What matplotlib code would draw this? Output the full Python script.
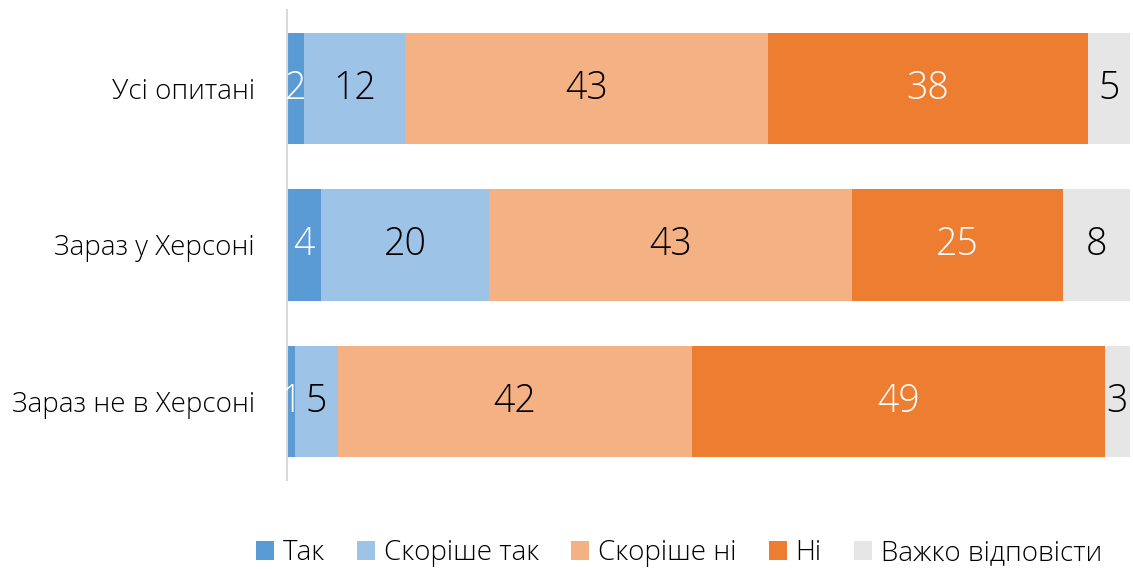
import matplotlib.pyplot as plt
import numpy as np

categories = ["Усі опитані", "Зараз у Херсоні", "Зараз не в Херсоні"]
series_names = ["Так", "Скоріше так", "Скоріше ні", "Ні", "Важко відповісти"]
tak = [2, 4, 1]
skorishe_tak = [12, 20, 5]
skorishe_ni = [43, 43, 42]
ni = [38, 25, 49]
vazhko = [5, 8, 3]

colors = ["#5B9BD5", "#9DC3E6", "#F4B183", "#ED7D31", "#E7E6E6"]
text_colors = ["white", "black", "black", "white", "black"]

plt.rcParams["font.family"] = ["Open Sans", "DejaVu Sans"]

fig = plt.figure(figsize=(11.33, 5.69), dpi=100)
ax = fig.add_axes([287 / 1133, 1 - 480 / 569, 843 / 1133, 470 / 569])

y = np.arange(len(categories))
left = np.zeros(len(categories))
for name, vals, color, tc in zip(series_names, [tak, skorishe_tak, skorishe_ni, ni, vazhko], colors, text_colors):
    bars = ax.barh(y, vals, left=left, height=0.71, color=color, label=name)
    ax.bar_label(bars, labels=[str(v) for v in vals], label_type="center",
                 color=tc, fontsize=27, fontweight="light")
    left += np.array(vals)

ax.set_xlim(0, 100)
ax.set_ylim(2.5, -0.5)
ax.set_yticks(y)
ax.set_yticklabels(categories, fontsize=20, fontweight="light")
ax.tick_params(axis="y", length=0, pad=23)
ax.set_xticks([])
for side in ["top", "right", "bottom"]:
    ax.spines[side].set_visible(False)
ax.spines["left"].set_color("#D9D9D9")
ax.spines["left"].set_linewidth(1.5)

fig.legend(loc="center", bbox_to_anchor=(679 / 1133, 1 - 553 / 569), ncol=5,
           frameon=False, prop={"size": 20, "weight": "light"},
           handlelength=0.65, handleheight=0.65, handletextpad=0.32, columnspacing=1.15)

fig.savefig("out.png", dpi=100)
